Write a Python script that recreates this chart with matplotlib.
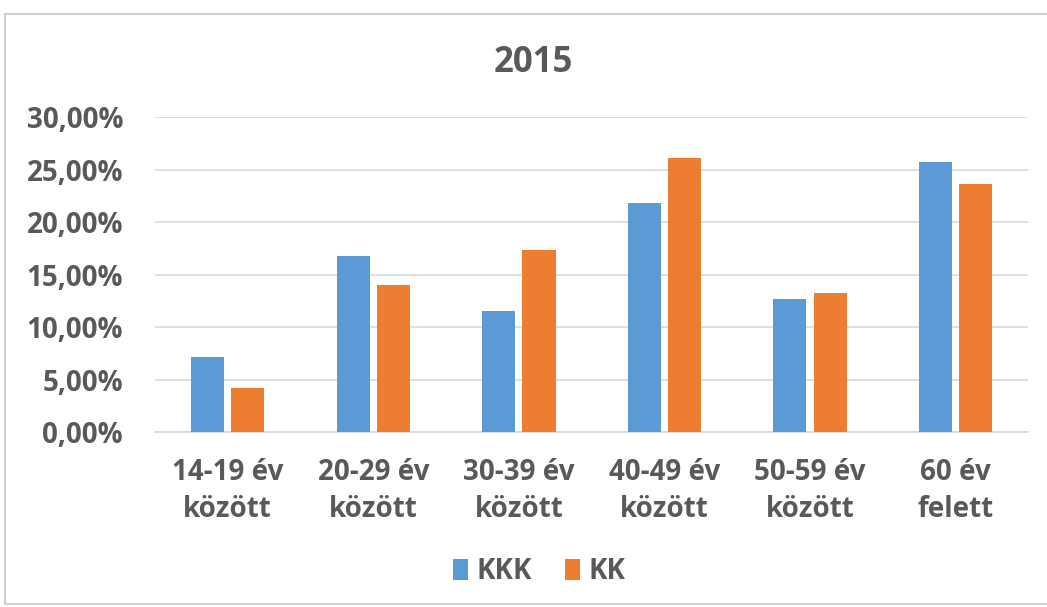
import numpy as np
import matplotlib
matplotlib.use("Agg")
import matplotlib.pyplot as plt
import matplotlib.ticker as mticker
from matplotlib import font_manager

# ── data ──────────────────────────────────────────────────────────────────────
TITLE = "2015"
CATEGORIES = ["14-19 év\nközött", "20-29 év\nközött", "30-39 év\nközött",
              "40-49 év\nközött", "50-59 év\nközött", "60 év\nfelett"]
KKK = [0.071, 0.168, 0.115, 0.218, 0.127, 0.257]
KK  = [0.042, 0.140, 0.173, 0.261, 0.132, 0.236]
SERIES_NAMES = ["KKK", "KK"]

BLUE   = "#5B9BD5"
ORANGE = "#ED7D31"
TEXT   = "#595959"
GRID   = "#D9D9D9"

names = {f.name for f in font_manager.fontManager.ttflist}
FONT = ["Liberation Sans Narrow"] if "Liberation Sans Narrow" in names else ["Open Sans"]
plt.rcParams["font.family"] = FONT + ["DejaVu Sans"]

fig = plt.figure(figsize=(10.47, 6.07), dpi=100)
fig.patch.set_facecolor("white")

# light frame around the chart area
frame = plt.Rectangle((0.005, 0.005), 1.2, 0.972, transform=fig.transFigure,
                      fill=False, edgecolor="#D0D0D0", linewidth=1.5)
fig.patches.append(frame)

ax = fig.add_axes([0.148, 0.2883, 0.834, 0.5189])

x = np.arange(len(CATEGORIES))
w = 0.227
off = 0.139
ax.bar(x - off, KKK, width=w, color=BLUE, label=SERIES_NAMES[0], zorder=3)
ax.bar(x + off, KK,  width=w, color=ORANGE, label=SERIES_NAMES[1], zorder=3)

ax.set_xlim(-0.5, len(CATEGORIES) - 0.5)
ax.set_ylim(0, 0.30)
ax.yaxis.set_major_locator(mticker.MultipleLocator(0.05))
ax.yaxis.set_major_formatter(
    mticker.FuncFormatter(lambda v, _: f"{v*100:.2f}%".replace(".", ",")))
ax.grid(axis="y", color=GRID, linewidth=1.2, zorder=0)

for s in ["top", "right", "left"]:
    ax.spines[s].set_visible(False)
ax.spines["bottom"].set_color(GRID)
ax.spines["bottom"].set_linewidth(1.2)

ax.tick_params(axis="both", length=0, colors=TEXT, labelsize=20)
ax.tick_params(axis="y", pad=23)
ax.tick_params(axis="x", pad=19)
ax.set_xticks(x)
ax.set_xticklabels(CATEGORIES, fontweight="bold", linespacing=1.35)
for t in ax.get_yticklabels():
    t.set_fontweight("bold")

fig.text(0.509, 0.897, TITLE, ha="center", va="center",
         fontsize=25, fontweight="bold", color=TEXT)

leg = fig.legend(loc="center", bbox_to_anchor=(0.515, 0.058), ncol=2,
                 frameon=False, fontsize=20, handlelength=0.55, handleheight=0.75,
                 handletextpad=0.3, columnspacing=1.2)
for t in leg.get_texts():
    t.set_color(TEXT)
    t.set_fontweight("bold")

fig.savefig("out.png", dpi=100)
